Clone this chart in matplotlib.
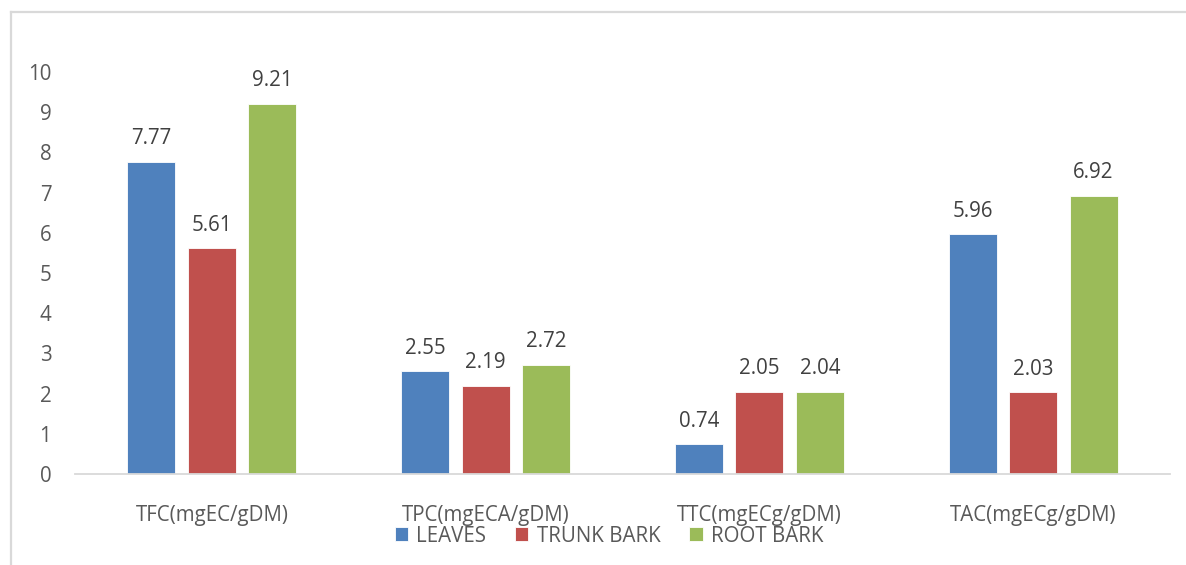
import numpy as np
import matplotlib.pyplot as plt
from matplotlib.lines import Line2D

plt.rcParams['font.family'] = ['Open Sans', 'DejaVu Sans']

# Phenolic content by plant part
categories = ['TFC(mgEC/gDM)', 'TPC(mgECA/gDM)', 'TTC(mgECg/gDM)', 'TAC(mgECg/gDM)']
leaves = [7.77, 2.55, 0.74, 5.96]
trunk_bark = [5.61, 2.19, 2.05, 2.03]
root_bark = [9.21, 2.72, 2.04, 6.92]
series_names = ['LEAVES', 'TRUNK BARK', 'ROOT BARK']
bar_colors = ['#4F81BD', '#C0504D', '#9BBB59']

fig = plt.figure(figsize=(11.86, 5.65), dpi=100)
ax = fig.add_axes([0.0632, 0.1611, 0.9233, 0.7115])

# thin frame around the chart area (top and left edges show)
fig.add_artist(Line2D([11 / 1186, 11 / 1186], [0, 1 - 12 / 565], transform=fig.transFigure,
                      color='#D9D9D9', lw=1.6))
fig.add_artist(Line2D([11 / 1186, 1], [1 - 12 / 565, 1 - 12 / 565], transform=fig.transFigure,
                      color='#D9D9D9', lw=1.6))

x = np.arange(len(categories))
width = 0.175
step = 0.221
for i, (vals, name, col) in enumerate(zip([leaves, trunk_bark, root_bark], series_names, bar_colors)):
    pos = x + (i - 1) * step
    bars = ax.bar(pos, vals, width, color=col, label=name, edgecolor='white', linewidth=0.6)
    for b, v in zip(bars, vals):
        ax.annotate('%.2f' % v, (b.get_x() + b.get_width() / 2, v), xytext=(0, 9),
                    textcoords='offset points', ha='center', va='bottom',
                    fontsize=14.8, color='#404040', annotation_clip=False)

ax.set_xlim(-0.5, 3.5)
ax.set_ylim(0, 10)
ax.set_yticks(range(0, 11))
ax.set_xticks(x)
ax.set_xticklabels(categories)
ax.tick_params(axis='both', length=0, labelsize=14.8, labelcolor='#595959')
ax.tick_params(axis='y', pad=17)
ax.tick_params(axis='x', pad=22.5)
for side in ['top', 'right', 'left']:
    ax.spines[side].set_visible(False)
ax.spines['bottom'].set_color('#D9D9D9')
ax.spines['bottom'].set_linewidth(1.3)

leg = fig.legend(loc='center', bbox_to_anchor=(0.5135, 1 - 536 / 565), ncol=3, frameon=False,
                 fontsize=14.8, handlelength=0.65, handleheight=0.65, handletextpad=0.4,
                 columnspacing=1.4, borderpad=0)
for t in leg.get_texts():
    t.set_color('#595959')

fig.savefig('out.png', dpi=100)
